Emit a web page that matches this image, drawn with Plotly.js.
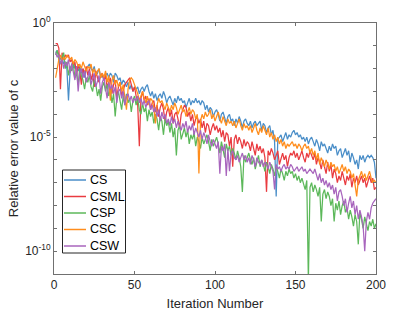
<!DOCTYPE html>
<html>
<head>
<meta charset="utf-8">
<script src="https://cdn.plot.ly/plotly-3.0.1.min.js"></script>
<style>html,body{margin:0;padding:0;background:#fff;}#chart{width:415px;height:312px;}</style>
</head>
<body>
<div id="chart"></div>
<script>
// log10 of the relative error of c, iterations 1..200
const seriesNames = ["CS", "CSML", "CSP", "CSC", "CSW"];
const xTickVals = [0, 50, 100, 150, 200];
const yLabelExponents = [0, -5, -10];
const yLabelTexts = ["10<sup>0</sup>", "10<sup>-5</sup>", "10<sup>-10</sup>"];
const yMinorExponents = [-1, -2, -3, -4, -6, -7, -8, -9, -11];

const csLog = [
-1.3,-1.2,-1.4,-1.6,-1.5,-1.8,-1.7,-2.0,-3.4,-2.1,
-1.8,-1.7,-2.0,-1.9,-2.1,-1.9,-2.2,-2.0,-2.4,-2.0,
-1.9,-1.8,-2.0,-2.1,-1.9,-2.3,-2.2,-2.0,-2.4,-2.3,
-2.5,-2.3,-2.2,-2.4,-2.2,-2.3,-2.6,-2.2,-2.3,-2.5,
-2.4,-2.7,-2.5,-2.6,-2.8,-2.6,-2.9,-2.7,-3.0,-2.8,
-2.9,-2.8,-3.1,-2.9,-2.8,-3.0,-2.8,-2.7,-3.0,-3.2,
-3.0,-3.3,-3.1,-3.4,-3.2,-3.1,-3.3,-3.0,-3.2,-3.5,
-3.3,-3.2,-3.4,-3.6,-3.3,-3.5,-3.2,-3.4,-3.3,-3.5,
-3.4,-3.7,-3.5,-3.3,-3.6,-3.4,-3.5,-3.3,-3.5,-3.4,
-3.6,-3.4,-3.5,-3.8,-3.6,-3.9,-3.7,-3.8,-4.1,-3.9,
-3.8,-4.0,-4.3,-4.0,-3.9,-4.2,-4.4,-4.1,-4.0,-4.3,
-4.2,-4.5,-4.2,-4.4,-4.1,-4.3,-4.6,-4.3,-4.2,-4.4,
-4.5,-4.3,-4.6,-4.4,-4.3,-4.5,-4.4,-4.3,-4.7,-4.4,
-4.5,-4.8,-4.6,-4.5,-4.9,-4.7,-5.2,-7.6,-5.1,-5.0,
-4.9,-5.2,-5.0,-4.8,-5.1,-4.9,-5.0,-4.8,-4.7,-4.9,
-4.8,-5.0,-4.9,-5.1,-5.0,-5.2,-5.0,-5.3,-5.1,-5.0,
-5.2,-5.4,-5.1,-5.3,-5.6,-5.2,-5.4,-5.3,-5.5,-5.7,
-5.4,-5.6,-5.3,-5.5,-5.4,-5.8,-5.6,-5.5,-5.9,-5.7,
-5.5,-5.8,-5.6,-6.1,-5.7,-5.9,-6.2,-6.0,-6.4,-5.8,
-6.0,-5.8,-6.1,-5.9,-5.8,-5.9,-5.8,-5.9,-6.1,-6.8
];
const csmlLog = [
-0.9,-0.9,-1.1,-2.9,-1.3,-1.6,-1.4,-1.5,-1.4,-1.7,
-1.6,-1.9,-1.7,-2.3,-1.8,-2.1,-2.7,-2.0,-2.2,-1.9,
-2.3,-2.0,-2.5,-2.2,-2.8,-2.1,-2.4,-2.6,-2.3,-2.2,
-2.5,-2.3,-2.8,-2.6,-2.4,-3.1,-2.7,-2.5,-3.3,-2.8,
-2.6,-3.2,-2.9,-2.7,-2.6,-2.5,-2.4,-2.7,-3.0,-2.8,
-3.2,-3.6,-5.4,-3.3,-3.0,-3.4,-3.2,-3.6,-3.3,-3.8,
-3.5,-3.4,-3.9,-3.6,-4.1,-3.7,-3.5,-3.8,-4.3,-3.9,
-3.7,-4.1,-3.8,-4.4,-4.0,-3.9,-4.2,-4.6,-4.0,-3.8,
-3.6,-3.7,-4.1,-3.9,-4.3,-4.0,-4.5,-4.2,-4.1,-4.4,
-4.2,-4.6,-4.3,-4.8,-4.4,-4.5,-4.9,-4.6,-4.4,-4.7,
-4.5,-4.8,-4.6,-5.0,-4.7,-5.2,-4.8,-4.9,-5.4,-5.0,
-6.3,-5.1,-4.9,-5.3,-5.0,-5.2,-5.5,-5.1,-5.4,-5.2,
-5.3,-5.6,-5.2,-5.5,-5.8,-5.3,-5.6,-5.4,-5.7,-5.5,
-5.9,-7.4,-5.6,-5.8,-5.5,-5.7,-6.0,-5.8,-5.6,-6.2,
-5.9,-5.7,-6.0,-5.8,-6.3,-5.9,-5.7,-5.8,-5.6,-5.9,
-5.7,-6.0,-5.8,-5.6,-5.9,-6.1,-5.7,-5.9,-5.6,-5.8,
-6.0,-5.7,-6.2,-5.9,-6.1,-6.4,-6.0,-6.3,-6.6,-6.1,
-6.5,-6.2,-6.8,-6.4,-6.6,-7.0,-6.7,-6.9,-6.5,-6.8,
-7.1,-6.7,-6.9,-6.6,-7.2,-6.8,-7.0,-6.7,-7.1,-6.9,
-6.7,-7.0,-6.8,-7.2,-6.9,-6.7,-7.0,-6.8,-7.3,-7.2
];
const cspLog = [
-1.4,-1.2,-1.6,-1.8,-1.5,-1.3,-2.0,-1.7,-2.3,-1.9,
-2.1,-1.8,-2.4,-2.2,-2.7,-2.0,-2.3,-2.5,-2.9,-2.4,
-2.6,-2.3,-2.8,-3.0,-2.5,-2.7,-3.2,-2.9,-3.4,-2.8,
-2.6,-3.0,-2.7,-3.2,-2.9,-3.5,-3.1,-4.1,-3.3,-3.0,
-3.4,-3.8,-3.2,-3.6,-3.1,-3.5,-3.3,-3.9,-3.4,-3.2,
-3.6,-3.3,-3.8,-4.0,-3.5,-3.9,-3.7,-4.3,-3.8,-4.1,
-3.9,-4.4,-4.0,-4.2,-4.7,-4.1,-4.3,-4.9,-4.2,-4.5,
-4.3,-4.8,-4.4,-5.0,-4.6,-5.8,-4.7,-4.5,-5.1,-4.8,
-4.6,-5.0,-4.7,-5.3,-4.9,-5.1,-4.8,-5.4,-5.0,-5.2,
-5.5,-5.0,-5.3,-5.1,-4.9,-5.2,-5.6,-5.1,-5.4,-5.2,
-5.0,-5.3,-5.7,-5.2,-5.5,-5.9,-5.3,-5.6,-5.4,-5.8,
-5.5,-5.7,-6.0,-5.6,-5.9,-6.3,-7.4,-5.8,-6.1,-5.9,
-5.7,-6.0,-6.2,-5.9,-6.4,-6.1,-5.8,-6.3,-6.0,-6.2,
-6.5,-6.1,-6.3,-6.6,-6.2,-6.4,-6.7,-6.3,-6.5,-6.8,
-6.4,-6.6,-6.9,-6.5,-6.7,-6.4,-6.6,-6.5,-6.8,-6.6,
-6.9,-6.7,-7.0,-6.8,-7.1,-7.3,-6.9,-11.3,-7.2,-7.0,
-7.4,-7.1,-7.3,-7.6,-7.2,-8.7,-7.5,-7.3,-7.7,-7.4,
-7.6,-8.0,-7.7,-8.7,-7.9,-8.2,-7.8,-8.4,-8.0,-7.8,
-8.3,-8.1,-8.6,-8.2,-8.5,-8.9,-8.4,-8.7,-9.7,-8.3,
-8.6,-9.0,-8.5,-8.8,-9.1,-8.7,-8.9,-8.6,-9.0,-8.8
];
const cscLog = [
-2.4,-1.9,-1.6,-1.4,-1.7,-1.5,-1.6,-1.4,-1.5,-1.6,
-1.5,-1.8,-1.6,-1.7,-1.9,-1.8,-2.0,-1.7,-1.9,-2.1,
-1.9,-2.0,-1.8,-2.2,-2.0,-2.3,-2.1,-2.0,-2.4,-2.2,
-2.4,-2.1,-2.6,-2.3,-3.4,-2.5,-2.3,-2.7,-2.5,-2.8,
-2.6,-3.0,-2.7,-3.2,-3.8,-2.9,-2.5,-2.4,-2.5,-2.7,
-2.9,-3.1,-3.4,-3.2,-3.0,-3.3,-3.5,-3.2,-3.6,-3.3,
-3.4,-3.7,-4.4,-3.6,-3.3,-3.5,-3.4,-3.6,-3.8,-3.5,
-3.7,-3.9,-3.6,-3.8,-3.5,-3.7,-4.0,-3.8,-3.6,-3.9,
-3.8,-4.1,-3.9,-3.7,-4.0,-3.8,-3.9,-4.2,-4.0,-6.6,
-4.3,-4.0,-4.2,-3.9,-4.1,-4.0,-3.8,-4.2,-4.0,-4.3,
-4.1,-3.9,-4.2,-4.4,-4.1,-4.3,-4.5,-4.2,-4.4,-4.3,
-4.5,-4.3,-4.6,-4.4,-4.2,-4.5,-4.7,-4.4,-4.6,-4.5,
-4.7,-4.5,-4.8,-4.6,-4.4,-4.7,-4.9,-4.6,-4.8,-4.5,
-4.7,-4.9,-4.6,-5.0,-4.8,-5.1,-4.9,-5.2,-5.0,-5.3,
-5.1,-5.4,-5.2,-5.5,-5.3,-5.4,-5.3,-5.2,-5.4,-5.3,
-5.5,-5.3,-5.4,-5.6,-5.4,-5.3,-5.5,-5.4,-5.7,-5.5,
-5.8,-5.6,-6.0,-5.7,-6.2,-5.9,-6.1,-6.3,-6.0,-6.2,
-6.4,-6.1,-6.3,-6.2,-6.5,-6.3,-6.6,-6.4,-6.2,-6.5,
-6.3,-6.6,-6.4,-6.5,-6.8,-6.6,-7.2,-7.6,-6.9,-6.7,
-6.5,-6.8,-6.6,-6.9,-6.7,-6.5,-6.8,-7.0,-6.9,-7.0
];
const cswLog = [
-1.3,-1.5,-1.4,-1.8,-1.6,-2.0,-1.7,-1.9,-1.6,-2.2,
-1.8,-2.1,-2.5,-1.9,-3.0,-2.2,-2.0,-2.4,-2.1,-2.6,
-2.3,-2.1,-2.7,-2.4,-2.2,-2.8,-2.5,-2.3,-3.1,-2.6,
-2.4,-2.8,-3.3,-2.6,-2.9,-2.7,-3.1,-2.8,-3.5,-3.0,
-2.9,-3.3,-3.0,-3.6,-3.2,-3.1,-3.4,-3.2,-3.5,-3.3,
-3.4,-3.2,-3.5,-3.3,-3.6,-3.4,-3.7,-3.5,-3.4,-3.8,
-3.6,-3.9,-3.7,-4.1,-3.8,-4.3,-3.9,-4.2,-4.0,-4.4,
-4.2,-4.5,-4.1,-4.4,-4.2,-4.6,-4.3,-4.5,-4.7,-4.4,
-4.6,-4.3,-4.8,-4.5,-4.7,-4.4,-4.9,-4.6,-4.8,-5.0,
-4.7,-5.1,-4.8,-5.0,-5.3,-4.9,-5.2,-5.4,-5.1,-5.3,
-5.5,-5.2,-6.6,-5.4,-5.6,-5.3,-6.7,-5.5,-6.5,-5.7,
-5.6,-5.9,-6.0,-5.8,-6.1,-5.9,-5.7,-6.0,-5.8,-6.1,
-5.9,-6.2,-5.8,-6.0,-6.3,-5.9,-6.1,-6.2,-6.0,-6.3,
-6.1,-6.2,-6.4,-6.1,-6.3,-6.5,-7.3,-6.2,-6.4,-6.3,
-6.5,-6.3,-6.2,-6.4,-6.3,-6.4,-6.2,-6.3,-6.5,-6.4,
-6.3,-6.5,-6.4,-6.3,-6.5,-6.4,-6.6,-6.5,-6.4,-6.5,
-6.6,-6.4,-6.7,-6.9,-6.6,-7.0,-6.8,-7.1,-6.9,-7.2,
-7.0,-7.3,-7.1,-7.5,-7.2,-7.8,-7.4,-7.3,-7.6,-8.0,
-7.7,-8.3,-7.9,-7.6,-8.1,-7.8,-8.4,-8.0,-8.6,-8.2,
-8.5,-8.9,-10.0,-8.7,-8.3,-8.6,-8.1,-7.9,-7.8,-7.7
];
const seriesColors = ["#4a8ec8", "#e93b40", "#5cb85a", "#ff8d1c", "#a865bd"];

const allLogs = [csLog, csmlLog, cspLog, cscLog, cswLog];
const traces = allLogs.map((arr, k) => ({
  type: "scatter",
  mode: "lines",
  name: seriesNames[k],
  x: arr.map((_, i) => i + 1),
  y: arr.map(e => Math.pow(10, e)),
  line: {color: seriesColors[k], width: 1.25},
  showlegend: false
}));

// figure geometry (pixels)
const W = 415, H = 312, M = {l: 54, r: 39, t: 23, b: 38};
const PW = W - M.l - M.r, PH = H - M.t - M.b;
const px = v => (v - M.l) / PW;
const py = v => (H - M.b - v) / PH;

// custom MATLAB-like legend box
const leg = {left: 62.5, right: 125.5, top: 170, bottom: 253, first: 180, step: 16.5, lineX0: 64, lineX1: 86, textX: 88};
const shapes = [{
  type: "rect", xref: "paper", yref: "paper", layer: "above",
  x0: px(leg.left), x1: px(leg.right), y0: py(leg.bottom), y1: py(leg.top),
  line: {color: "#262626", width: 1}, fillcolor: "#ffffff"
}];
const annotations = [];
seriesNames.forEach((nm, k) => {
  const yc = leg.first + leg.step * k;
  shapes.push({
    type: "line", xref: "paper", yref: "paper", layer: "above",
    x0: px(leg.lineX0), x1: px(leg.lineX1), y0: py(yc), y1: py(yc),
    line: {color: seriesColors[k], width: 1.5}
  });
  annotations.push({
    xref: "paper", yref: "paper", x: px(leg.textX), y: py(yc),
    xanchor: "left", yanchor: "middle", showarrow: false,
    text: nm, font: {size: 12.5, color: "#000000"}
  });
});

const fontFam = "Liberation Sans, Arial, Helvetica, sans-serif";
const axisCol = "#707070";
const layout = {
  width: W, height: H,
  margin: {l: M.l, r: M.r, t: M.t, b: M.b, pad: 0},
  paper_bgcolor: "#ffffff", plot_bgcolor: "#ffffff",
  font: {family: fontFam, size: 12, color: "#262626"},
  showlegend: false,
  shapes: shapes,
  annotations: annotations,
  xaxis: {
    range: [0, 200], tickmode: "array", tickvals: xTickVals,
    ticks: "inside", ticklen: 3, tickcolor: axisCol, tickwidth: 1,
    showline: true, linecolor: axisCol, linewidth: 1, mirror: "ticks",
    showgrid: false, zeroline: false,
    tickfont: {size: 12, color: "#262626"},
    title: {text: "Iteration Number", font: {size: 13, color: "#262626"}, standoff: 7}
  },
  yaxis: {
    type: "log", range: [-11, 0], tickmode: "array",
    tickvals: yLabelExponents.map(e => Math.pow(10, e)), ticktext: yLabelTexts,
    ticks: "inside", ticklen: 3, tickcolor: axisCol, tickwidth: 1,
    showline: true, linecolor: axisCol, linewidth: 1, mirror: "ticks",
    showgrid: false, zeroline: false,
    minor: {tickmode: "array", tickvals: yMinorExponents.map(e => Math.pow(10, e)),
            ticks: "inside", ticklen: 3, tickcolor: axisCol, tickwidth: 1, showgrid: false},
    tickfont: {size: 12, color: "#262626"},
    title: {text: "Relative error value of c", font: {size: 13, color: "#262626"}, standoff: 3}
  }
};
Plotly.newPlot("chart", traces, layout, {displayModeBar: false, staticPlot: true});
</script>
</body>
</html>
